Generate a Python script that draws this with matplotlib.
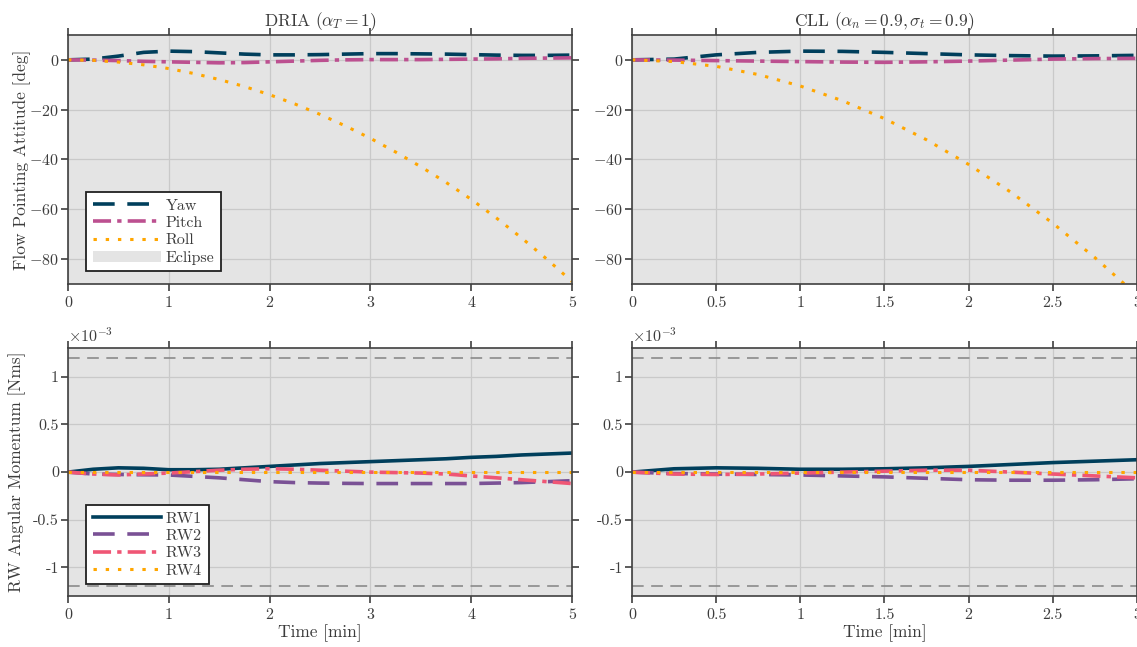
import numpy as np
import matplotlib
matplotlib.use("Agg")
import matplotlib.pyplot as plt
from matplotlib.ticker import FuncFormatter

plt.rcParams['font.family'] = 'serif'
plt.rcParams['font.serif'] = ['cmr10']
plt.rcParams['mathtext.fontset'] = 'cm'
plt.rcParams['axes.unicode_minus'] = False
plt.rcParams['axes.formatter.use_mathtext'] = True
plt.rcParams['font.size'] = 12

# --- data ---------------------------------------------------------------
# flow pointing attitude [deg]
t_dria = [0, 0.25, 0.5, 0.75, 1, 1.25, 1.5, 1.75, 2, 2.25, 2.5, 2.75, 3,
          3.25, 3.5, 3.75, 4, 4.25, 4.5, 4.75, 5]
yaw_dria = [0, 0.3, 1.5, 3.0, 3.5, 3.3, 2.8, 2.3, 2.0, 2.0, 2.1, 2.3, 2.5,
            2.5, 2.4, 2.3, 2.1, 1.9, 1.8, 1.8, 1.9]
pitch_dria = [0, -0.1, -0.3, -0.6, -0.8, -1.0, -1.2, -1.1, -0.8, -0.5, -0.2,
              0.0, 0.1, 0.1, 0.1, 0.2, 0.3, 0.4, 0.6, 0.7, 0.8]
roll_dria = [0, -0.2, -0.9, -2.0, -3.5, -5.5, -7.9, -10.7, -14.0, -17.7,
             -21.9, -26.5, -31.5, -37.0, -42.9, -49.2, -56.0, -63.5, -71.5,
             -80.0, -89.0]

t_cll = [0, 0.25, 0.5, 0.75, 1, 1.25, 1.5, 1.75, 2, 2.25, 2.5, 2.75, 3]
yaw_cll = [0, 0.3, 2.0, 3.0, 3.5, 3.4, 3.0, 2.5, 2.0, 1.7, 1.5, 1.6, 1.8]
pitch_cll = [0, -0.1, -0.3, -0.5, -0.7, -0.9, -1.0, -0.8, -0.5, -0.1, 0.3,
             0.5, 0.6]
roll_cll = [0, -0.7, -2.6, -5.9, -10.5, -16.4, -23.6, -32.1, -42.0, -53.1,
            -65.6, -79.4, -94.5]

# reaction wheel angular momentum [Nms] x 1e-3
rw1_dria = [0, 0.03, 0.045, 0.04, 0.025, 0.025, 0.03, 0.045, 0.06, 0.075,
            0.09, 0.10, 0.11, 0.12, 0.13, 0.14, 0.155, 0.165, 0.18, 0.19, 0.2]
rw2_dria = [0, -0.02, -0.025, -0.028, -0.03, -0.045, -0.06, -0.08, -0.1,
            -0.11, -0.115, -0.118, -0.12, -0.12, -0.12, -0.12, -0.12, -0.115,
            -0.11, -0.1, -0.09]
rw3_dria = [0, -0.02, -0.03, -0.02, -0.01, 0.005, 0.02, 0.03, 0.035, 0.03,
            0.02, 0.01, 0.0, -0.005, -0.01, -0.02, -0.04, -0.06, -0.08, -0.1,
            -0.12]
rw4_dria = [0] * 21

rw1_cll = [0, 0.035, 0.045, 0.04, 0.03, 0.03, 0.035, 0.045, 0.06, 0.08, 0.1,
           0.115, 0.13]
rw2_cll = [0, -0.015, -0.02, -0.025, -0.03, -0.04, -0.05, -0.065, -0.08,
           -0.085, -0.085, -0.08, -0.07]
rw3_cll = [0, -0.02, -0.025, -0.02, -0.01, 0.0, 0.01, 0.02, 0.02, 0.0, -0.02,
           -0.04, -0.06]
rw4_cll = [0] * 13

rw_limit = 1.2  # x 1e-3 Nms

titles = [r'DRIA ($\alpha_T = 1$)', r'CLL ($\alpha_n = 0.9, \sigma_t = 0.9$)']
xticks_dria = [0, 1, 2, 3, 4, 5]
xticks_cll = [0, 0.5, 1, 1.5, 2, 2.5, 3]

# --- styles -------------------------------------------------------------
c_navy = '#003f5c'
c_purple = '#7a5195'
c_magenta = '#bc5090'
c_pink = '#ef5675'
c_orange = '#ffa600'
dash = (0, (6, 3.5))
dashdot = (0, (5, 1.7, 1.2, 1.7))
dot = (0, (1.1, 2.9))
lw = 2.6
lw_dot = 2.2
bg = '#e4e4e4'
txt = '#3c3c3c'

fig = plt.figure(figsize=(11.37, 6.47), dpi=100)
axes = [[fig.add_axes([0.0598, 0.561, 0.4433, 0.385]),
         fig.add_axes([0.5558, 0.561, 0.4442, 0.385])],
        [fig.add_axes([0.0598, 0.0788, 0.4433, 0.383]),
         fig.add_axes([0.5558, 0.0788, 0.4442, 0.383])]]


def style(ax, xmax, xticks):
    ax.set_xlim(0, xmax)
    ax.set_xticks(xticks)
    ax.xaxis.set_major_formatter(FuncFormatter(lambda v, p: '%g' % v))
    ax.set_axisbelow('line')
    ax.grid(True, color='#c9c9c9', lw=0.9)
    ax.tick_params(direction='out', length=5, width=1.2, colors='#404040',
                   labelcolor=txt, top=True, right=True, labelsize=11.5)
    ax.tick_params(axis='y', pad=1.5)
    for s in ax.spines.values():
        s.set_color('#404040')
        s.set_linewidth(1.2)


# attitude
for ax, t, yw, pt, rl, xt, ttl in [
        (axes[0][0], t_dria, yaw_dria, pitch_dria, roll_dria, xticks_dria, titles[0]),
        (axes[0][1], t_cll, yaw_cll, pitch_cll, roll_cll, xticks_cll, titles[1])]:
    ax.axvspan(0, t[-1], color=bg, lw=0, zorder=0, label='Eclipse')
    ax.plot(t, yw, color=c_navy, ls=dash, lw=lw, label='Yaw')
    ax.plot(t, pt, color=c_magenta, ls=dashdot, lw=lw, label='Pitch')
    ax.plot(t, rl, color=c_orange, ls=dot, lw=lw_dot, label='Roll')
    ax.set_ylim(-90, 10)
    ax.set_yticks([-80, -60, -40, -20, 0])
    style(ax, t[-1], xt)
    ax.set_title(ttl, fontsize=12.5, color=txt, pad=6)

axes[0][0].set_ylabel('Flow Pointing Attitude [deg]', color=txt, fontsize=12.5)
axes[0][0].yaxis.set_label_coords(-0.074, 0.5)
h, l = axes[0][0].get_legend_handles_labels()
order = [1, 2, 3, 0]
leg = axes[0][0].legend([h[i] for i in order], [l[i] for i in order],
                        loc='lower left', bbox_to_anchor=(0.036, 0.052),
                        borderaxespad=0, fancybox=False, framealpha=1,
                        edgecolor='#202020', handlelength=4.3,
                        handletextpad=0.3, labelspacing=0.2, fontsize=11.5,
                        borderpad=0.4)
leg.get_frame().set_linewidth(1.3)
for tx in leg.get_texts():
    tx.set_color(txt)

# reaction wheels
for ax, t, r1, r2, r3, r4, xt in [
        (axes[1][0], t_dria, rw1_dria, rw2_dria, rw3_dria, rw4_dria, xticks_dria),
        (axes[1][1], t_cll, rw1_cll, rw2_cll, rw3_cll, rw4_cll, xticks_cll)]:
    ax.axvspan(0, t[-1], color=bg, lw=0, zorder=0)
    ax.axhline(rw_limit * 1e-3, color='#8a8a8a', lw=1.2, ls=(0, (7, 4.5)))
    ax.axhline(-rw_limit * 1e-3, color='#8a8a8a', lw=1.2, ls=(0, (7, 4.5)))
    ax.plot(t, np.array(r1) * 1e-3, color=c_navy, lw=lw, label='RW1')
    ax.plot(t, np.array(r2) * 1e-3, color=c_purple, ls=dash, lw=lw, label='RW2')
    ax.plot(t, np.array(r3) * 1e-3, color=c_pink, ls=dashdot, lw=lw, label='RW3')
    ax.plot(t, np.array(r4) * 1e-3, color=c_orange, ls=dot, lw=lw_dot, label='RW4')
    ax.set_ylim(-1.3e-3, 1.3e-3)
    ax.set_yticks([-1e-3, -0.5e-3, 0, 0.5e-3, 1e-3])
    ax.yaxis.set_major_formatter(FuncFormatter(lambda v, p: '%g' % round(v * 1e3, 3)))
    style(ax, t[-1], xt)
    ax.set_xlabel('Time [min]', color=txt, fontsize=12.5, labelpad=2)
    ax.text(0, 1.015, r'$\times10^{-3}$', transform=ax.transAxes,
            ha='left', va='bottom', color=txt, fontsize=11.5)

axes[1][0].set_ylabel('RW Angular Momentum [Nms]', color=txt, fontsize=12.5)
axes[1][0].yaxis.set_label_coords(-0.084, 0.5)
leg2 = axes[1][0].legend(loc='lower left', bbox_to_anchor=(0.036, 0.048),
                         borderaxespad=0, fancybox=False, framealpha=1,
                         edgecolor='#202020', handlelength=4.3,
                         handletextpad=0.3, labelspacing=0.2, fontsize=11.5,
                         borderpad=0.4)
leg2.get_frame().set_linewidth(1.3)
for tx in leg2.get_texts():
    tx.set_color(txt)

fig.savefig('out.png', dpi=100)
